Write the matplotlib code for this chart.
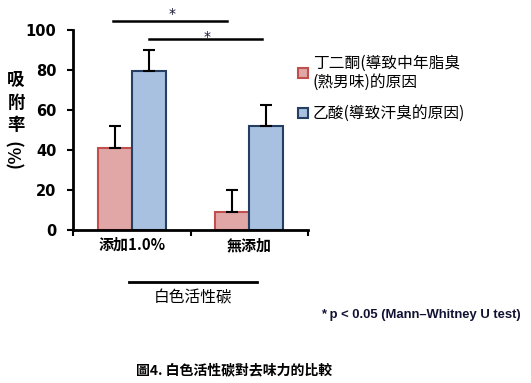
import matplotlib.pyplot as plt
import numpy as np

plt.rcParams['font.family'] = ['Noto Sans CJK TC', 'DejaVu Sans']

# 資料
categories = ['添加1.0%', '無添加']
series_names = ['丁二酮(導致中年脂臭\n(熟男味)的原因', '乙酸(導致汗臭的原因)']
diacetyl = [41, 9]
diacetyl_err = [11, 11]
acetic = [79.5, 52]
acetic_err = [10.5, 10.5]
yticks = [0, 20, 40, 60, 80, 100]

fig = plt.figure(figsize=(5.31, 3.83), dpi=100)
ax = fig.add_axes([73 / 531, 1 - 230 / 383, (308 - 73) / 531, 200 / 383])

x = np.arange(len(categories))
w = 0.29
ekw = dict(ecolor='black', elinewidth=1.5, capsize=4, capthick=1.5)
ax.bar(x - w / 2, diacetyl, w, color='#E0A7A6', edgecolor='#C0504D', linewidth=1.5,
       yerr=[np.zeros(2), diacetyl_err], error_kw=ekw, label=series_names[0])
ax.bar(x + w / 2, acetic, w, color='#A8C1E0', edgecolor='#253F63', linewidth=1.5,
       yerr=[np.zeros(2), acetic_err], error_kw=ekw, label=series_names[1])

ax.set_xlim(-0.5, 1.5)
ax.set_ylim(0, 100)
ax.set_yticks(yticks)
ax.set_yticklabels([str(v) for v in yticks], fontsize=10.5, fontweight='bold',
                   family=['DejaVu Sans'])
ax.set_xticks(x)
ax.set_xticklabels(categories, fontsize=10.8, fontweight='bold')
ax.set_xticks([-0.5, 0.5, 1.5], minor=True)
ax.tick_params(axis='x', which='major', length=0, pad=5)
ax.tick_params(axis='x', which='minor', length=4, width=1.5, direction='out')
ax.tick_params(axis='y', length=4, width=1.5, direction='out', pad=8)
for s in ['top', 'right']:
    ax.spines[s].set_visible(False)
for s in ['left', 'bottom']:
    ax.spines[s].set_linewidth(2)
ax.patch.set_alpha(0)

# 顯著性標記
ax.plot([-0.16, 0.81], [104.7, 104.7], color='black', lw=1.8, clip_on=False)
ax.text(0.34, 106.2, '*', ha='center', va='baseline', fontsize=10, color='#111133',
        family=['DejaVu Sans'], clip_on=False)
ax.plot([0.144, 1.11], [95.6, 95.6], color='black', lw=1.8, clip_on=False)
ax.text(0.64, 94.7, '*', ha='center', va='baseline', fontsize=10, color='#111133',
        family=['DejaVu Sans'], clip_on=False)

# Y 軸標題
for ch, yy in zip('吸附率', [80, 103, 125]):
    fig.text(16 / 531, 1 - yy / 383, ch, ha='center', va='center', fontsize=12.5, fontweight='bold')
fig.text(16 / 531, 1 - 153 / 383, '(%)', ha='center', va='center', rotation=90,
         fontsize=12.5, fontweight='bold')

# 圖例
fig.patches.append(plt.Rectangle((298 / 531, 1 - 78 / 383), 10 / 531, 10 / 383, transform=fig.transFigure,
                                 facecolor='#E0A7A6', edgecolor='#C0504D', lw=1.5))
fig.text(313 / 531, 1 - 73 / 383, series_names[0], ha='left', va='center', fontsize=11.3, linespacing=1.15)
fig.patches.append(plt.Rectangle((298 / 531, 1 - 118 / 383), 10 / 531, 10 / 383, transform=fig.transFigure,
                                 facecolor='#A8C1E0', edgecolor='#253F63', lw=1.5))
fig.text(313 / 531, 1 - 113 / 383, series_names[1], ha='left', va='center', fontsize=11.3)

# 類別群組
fig.add_artist(plt.Line2D([129 / 531, 257 / 531], [1 - 282 / 383, 1 - 282 / 383], color='black', lw=2))
fig.text(193 / 531, 1 - 298 / 383, '白色活性碳', ha='center', va='center', fontsize=11.3)

fig.text(521 / 531, 1 - 315 / 383, '* p < 0.05 (Mann–Whitney U test)', ha='right', va='center',
         fontsize=9.4, fontweight='bold', color='#111133', family=['Liberation Sans', 'DejaVu Sans'])
fig.text(136 / 531, 1 - 370 / 383, '圖4. 白色活性碳對去味力的比較', ha='left', va='center',
         fontsize=10, fontweight='bold')

fig.savefig('out.png', dpi=100)
